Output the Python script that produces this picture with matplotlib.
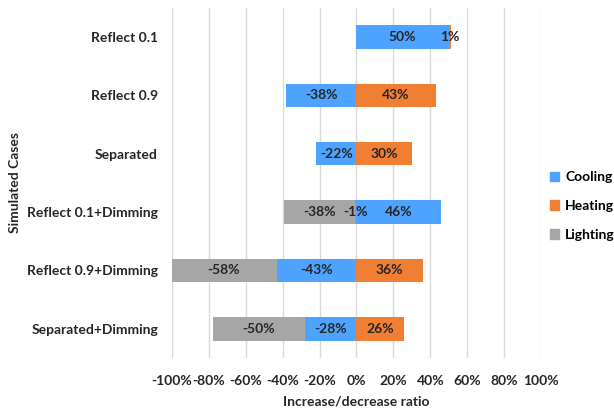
import matplotlib
matplotlib.use("Agg")
import matplotlib.pyplot as plt
import numpy as np
from matplotlib.patches import Patch

categories = ["Reflect 0.1", "Reflect 0.9", "Separated", "Reflect 0.1+Dimming",
              "Reflect 0.9+Dimming", "Separated+Dimming"]
series_names = ["Cooling", "Heating", "Lighting"]
cooling = [50, -38, -22, 46, -43, -28]
heating = [1, 43, 30, -1, 36, 26]
lighting = [0, 0, 0, -38, -58, -50]
xticks = list(range(-100, 101, 20))

colors = {"Cooling": "#4DA3FF", "Heating": "#F07F34", "Lighting": "#A6A6A6"}
plt.rcParams['font.family'] = ['Lato', 'DejaVu Sans']

fig = plt.figure(figsize=(6.14, 4.12), dpi=100)
ax = fig.add_axes([0.280, 0.131, 0.601, 0.850])

y = np.arange(len(categories))
pos = np.zeros(len(categories))
neg = np.zeros(len(categories))
for name, vals in zip(series_names, [cooling, heating, lighting]):
    vals = np.array(vals, dtype=float)
    left = np.where(vals >= 0, pos, neg)
    ax.barh(y, vals, left=left, height=0.4, color=colors[name], zorder=3)
    for i, v in enumerate(vals):
        if v == 0:
            continue
        cx = left[i] + v / 2
        if cx < -100:
            cx = (left[i] + max(left[i] + v, -100)) / 2
        ax.text(cx, y[i], f"{int(v)}%", ha="center", va="center",
                fontsize=10, fontweight="bold", color="#262626", zorder=4)
    pos = np.where(vals >= 0, pos + vals, pos)
    neg = np.where(vals < 0, neg + vals, neg)

ax.set_xlim(-100, 100)
ax.set_ylim(len(categories) - 0.5, -0.5)
ax.set_xticks(xticks)
ax.set_xticklabels([f"{t}%" for t in xticks], fontsize=10, fontweight="bold", color="#262626")
ax.set_yticks(y)
ax.set_yticklabels(categories, fontsize=10, fontweight="bold", color="#262626")
ax.tick_params(axis='x', length=0, pad=12)
ax.tick_params(axis='y', length=0, pad=10)
ax.grid(axis="x", color="#D9D9D9", linewidth=1, zorder=0)
for s in ax.spines.values():
    s.set_visible(False)
ax.set_xlabel("Increase/decrease ratio", fontsize=10, fontweight="bold", color="#262626", labelpad=6)
ax.set_ylabel("Simulated Cases", fontsize=10, fontweight="bold", color="#262626")
ax.yaxis.set_label_coords(-0.41, 0.5)

handles = [Patch(color=colors[n], label=n) for n in series_names]
leg = fig.legend(handles=handles, loc="center left", bbox_to_anchor=(0.875, 0.50),
                 frameon=False, handlelength=0.7, handleheight=0.7,
                 labelspacing=1.2, handletextpad=0.4, prop={"weight": "bold", "size": 10})

fig.savefig("out.png", dpi=100)
